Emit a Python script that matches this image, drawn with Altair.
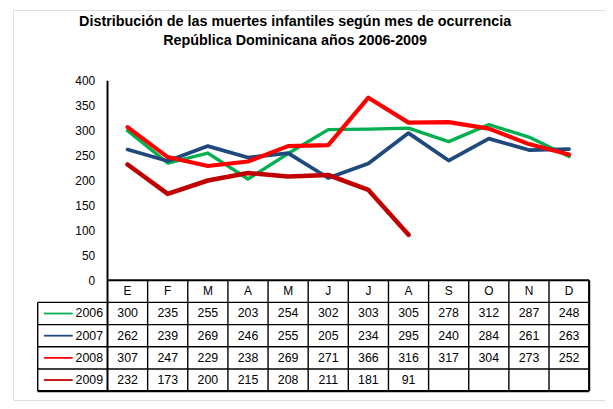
import altair as alt
import pandas as pd

# ---- data ----
months = ["E", "F", "M", "A", "M", "J", "J", "A", "S", "O", "N", "D"]
years = ["2006", "2007", "2008", "2009"]
v2006 = [300, 235, 255, 203, 254, 302, 303, 305, 278, 312, 287, 248]
v2007 = [262, 239, 269, 246, 255, 205, 234, 295, 240, 284, 261, 263]
v2008 = [307, 247, 229, 238, 269, 271, 366, 316, 317, 304, 273, 252]
v2009 = [232, 173, 200, 215, 208, 211, 181, 91]
y_ticks = [0, 50, 100, 150, 200, 250, 300, 350, 400]
title_lines = [
    "Distribución de las muertes infantiles según mes de ocurrencia",
    "República Dominicana años 2006-2009",
]

# ---- styles ----
colors = ["#00b050", "#1f497d", "#ff0000", "#c00000"]
widths = [3.4, 4.6, 5, 4.6]
FONT = "Liberation Sans"
n = len(months)

series = dict(zip(years, [v2006, v2007, v2008, v2009]))

# ---- derived tables ----
line_rows, cell_rows = [], []
for r, yr in enumerate(years, start=1):
    for i, val in enumerate(series[yr]):
        line_rows.append({"year": yr, "mx": i + 0.5, "v": val})
        cell_rows.append({"year": yr, "mx": i + 0.5, "r": r + 0.5, "txt": str(val)})
lines_df = pd.DataFrame(line_rows)
cells_df = pd.DataFrame(cell_rows)
header_df = pd.DataFrame({"mx": [i + 0.5 for i in range(n)], "r": 0.5, "txt": months})
labels_df = pd.DataFrame({"year": years, "mx": 0.0, "r": [k + 1.5 for k in range(len(years))]})

XL = -1.739  # left edge of the label column (in month units)
sw_df = pd.DataFrame({"year": years, "x1": -1.584, "x2": -0.868,
                      "r": [k + 1.5 for k in range(len(years))]})

hgrid = pd.DataFrame({"x1": XL, "x2": float(n), "r": list(range(1, len(years) + 2)),
                      "w": [1.4] * len(years) + [2.2]})
vgrid = pd.DataFrame({"x": [float(i) for i in range(n + 1)] + [XL],
                      "r1": [0.0] * (n + 1) + [1.0], "r2": 5.0,
                      "w": [2.0] + [1.4] * (n - 1) + [2.2, 1.4]})
yaxis_df = pd.DataFrame({"x": [0.0], "v1": [0], "v2": [max(y_ticks)]})
xaxis_df = pd.DataFrame({"x1": [0.0], "x2": [float(n)], "v": [0]})

# ---- scales ----
xs = alt.Scale(domain=[-2.3557, 12.395], nice=False, zero=False)
vs = alt.Scale(domain=[-240.2, 541.9], nice=False, zero=False)
rs = alt.Scale(domain=[-12.1875, 5.4018], nice=False, zero=False, reverse=True)
col = alt.Color("year:N", scale=alt.Scale(domain=years, range=colors), legend=None)

yaxis = alt.Axis(values=y_ticks, offset=-95.5, ticks=False, domain=False, grid=False,
                 labelPadding=13, labelFontSize=12, labelFont=FONT, labelColor="black",
                 title=None)

lines = alt.Chart(lines_df).mark_line(strokeCap="round", strokeJoin="round").encode(
    x=alt.X("mx:Q", scale=xs, axis=None),
    y=alt.Y("v:Q", scale=vs, axis=yaxis),
    color=col,
    size=alt.Size("year:N", scale=alt.Scale(domain=years, range=widths), legend=None),
    detail="year:N",
)
yaxis_rule = alt.Chart(yaxis_df).mark_rule(color="black", strokeWidth=2).encode(
    x=alt.X("x:Q", scale=xs, axis=None), y=alt.Y("v1:Q", scale=vs, axis=None), y2="v2:Q")
xaxis_rule = alt.Chart(xaxis_df).mark_rule(color="black", strokeWidth=2.2).encode(
    x=alt.X("x1:Q", scale=xs, axis=None), x2="x2:Q", y=alt.Y("v:Q", scale=vs, axis=None))

hg = alt.Chart(hgrid).mark_rule(color="black").encode(
    x=alt.X("x1:Q", scale=xs, axis=None), x2="x2:Q",
    y=alt.Y("r:Q", scale=rs, axis=None),
    strokeWidth=alt.StrokeWidth("w:Q", scale=None))
vg = alt.Chart(vgrid).mark_rule(color="black").encode(
    x=alt.X("x:Q", scale=xs, axis=None),
    y=alt.Y("r1:Q", scale=rs, axis=None), y2="r2:Q",
    strokeWidth=alt.StrokeWidth("w:Q", scale=None))
head = alt.Chart(header_df).mark_text(font=FONT, fontSize=12, color="black",
                                      baseline="middle").encode(
    x=alt.X("mx:Q", scale=xs, axis=None), y=alt.Y("r:Q", scale=rs, axis=None), text="txt:N")
cells = alt.Chart(cells_df).mark_text(font=FONT, fontSize=12.5, color="black",
                                      baseline="middle").encode(
    x=alt.X("mx:Q", scale=xs, axis=None), y=alt.Y("r:Q", scale=rs, axis=None), text="txt:N")
labs = alt.Chart(labels_df).mark_text(font=FONT, fontSize=12.5, color="black",
                                      baseline="middle", align="right", dx=-4.5).encode(
    x=alt.X("mx:Q", scale=xs, axis=None), y=alt.Y("r:Q", scale=rs, axis=None), text="year:N")
sw = alt.Chart(sw_df).mark_rule(strokeWidth=1.8).encode(
    x=alt.X("x1:Q", scale=xs, axis=None), x2="x2:Q",
    y=alt.Y("r:Q", scale=rs, axis=None), color=col)

chart = alt.layer(hg, vg, head, cells, labs, sw, lines, yaxis_rule, xaxis_rule).resolve_scale(
    y="independent", size="independent", strokeWidth="independent"
).properties(
    width=598, height=394,
    title=alt.TitleParams(text=title_lines, anchor="middle", font=FONT, fontSize=14.5,
                          fontWeight="bold", color="black", offset=0, dx=-14, dy=39,
                          lineHeight=19.5),
    autosize=alt.AutoSizeParams(type="none"),
    padding={"left": 5, "top": 0, "right": 0, "bottom": 0},
).configure_view(stroke="#808080", strokeWidth=1.2).configure(background="white")

chart.save("out.html", embed_options={"renderer": "svg", "actions": False})
